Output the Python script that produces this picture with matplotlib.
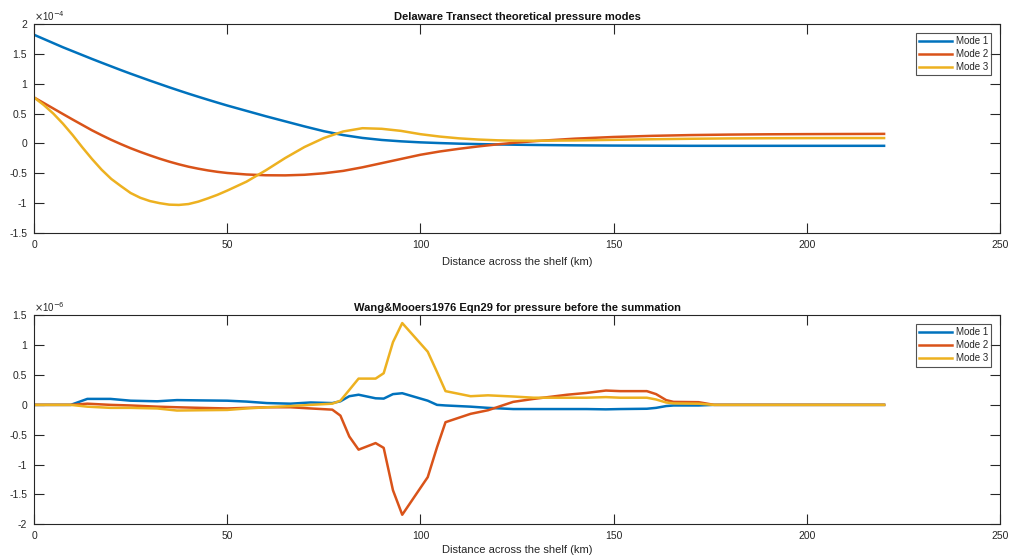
import numpy as np
import matplotlib
matplotlib.use("Agg")
import matplotlib.pyplot as plt
from matplotlib.ticker import FuncFormatter, MultipleLocator

plt.rcParams['font.family'] = ['Liberation Sans', 'DejaVu Sans']
plt.rcParams['axes.unicode_minus'] = False

# ---- Theoretical pressure modes across the shelf (units of 1e-4) ----
x_modes = [0, 2.5, 5, 7.5, 10, 12.5, 15, 17.5, 20, 22.5, 25, 27.5, 30, 32.5,
           35, 37.5, 40, 42.5, 45, 47.5, 50, 55, 60, 65, 70, 75, 80, 85, 90,
           95, 100, 105, 110, 115, 120, 125, 130, 140, 150, 160, 170, 180,
           190, 200, 210, 220]
mode1 = [1.82, 1.75, 1.68, 1.61, 1.545, 1.48, 1.415, 1.352, 1.29, 1.228,
         1.168, 1.11, 1.052, 0.996, 0.94, 0.886, 0.833, 0.782, 0.732, 0.683,
         0.635, 0.545, 0.455, 0.37, 0.285, 0.205, 0.14, 0.092, 0.058, 0.035,
         0.018, 0.006, -0.004, -0.011, -0.017, -0.022, -0.026, -0.032,
         -0.036, -0.038, -0.04, -0.04, -0.04, -0.04, -0.04, -0.04]
mode2 = [0.77, 0.678, 0.585, 0.492, 0.40, 0.31, 0.22, 0.138, 0.06, -0.012,
         -0.08, -0.142, -0.2, -0.255, -0.305, -0.35, -0.39, -0.423, -0.452,
         -0.476, -0.495, -0.52, -0.533, -0.535, -0.525, -0.50, -0.46, -0.40,
         -0.33, -0.26, -0.19, -0.135, -0.09, -0.05, -0.015, 0.015, 0.04,
         0.08, 0.108, 0.127, 0.14, 0.148, 0.153, 0.156, 0.158, 0.16]
mode3 = [0.77, 0.645, 0.50, 0.33, 0.14, -0.065, -0.26, -0.44, -0.595, -0.715,
         -0.83, -0.91, -0.965, -1.0, -1.025, -1.03, -1.015, -0.975, -0.92,
         -0.86, -0.79, -0.64, -0.45, -0.245, -0.06, 0.09, 0.20, 0.255, 0.245,
         0.21, 0.155, 0.115, 0.085, 0.065, 0.052, 0.046, 0.045, 0.05, 0.06,
         0.07, 0.078, 0.084, 0.087, 0.089, 0.09, 0.09]
top_scale = 1e-4

# ---- Wang & Mooers (1976) Eqn 29 terms (units of 1e-6) ----
x_terms = [0, 9.5, 13.8, 19.8, 25, 31.9, 37, 43, 50, 55, 60.3, 66.4, 71.6,
           77.2, 79.3, 81.6, 84, 88.4, 90.5, 92.9, 95.3, 101.9, 104.3, 106.5,
           113, 117.5, 124, 129.3, 138, 143, 148, 151.7, 158.6, 161, 163.6,
           165.5, 172, 176, 220]
term1 = [0, 0, 0.10, 0.10, 0.07, 0.06, 0.08, 0.075, 0.07, 0.055, 0.03, 0.02,
         0.04, 0.03, 0.06, 0.145, 0.17, 0.11, 0.105, 0.18, 0.195, 0.07, 0.0,
         -0.01, -0.03, -0.05, -0.07, -0.07, -0.07, -0.07, -0.075, -0.07,
         -0.065, -0.05, -0.02, -0.01, -0.01, 0, 0]
term2 = [0, 0, 0.02, 0.0, -0.01, -0.03, -0.04, -0.05, -0.06, -0.05, -0.04,
         -0.04, -0.06, -0.08, -0.18, -0.53, -0.75, -0.64, -0.72, -1.43,
         -1.84, -1.21, -0.71, -0.29, -0.15, -0.09, 0.05, 0.1, 0.17, 0.2,
         0.24, 0.23, 0.23, 0.18, 0.08, 0.05, 0.045, 0, 0]
term3 = [0, 0, -0.03, -0.05, -0.05, -0.06, -0.095, -0.09, -0.085, -0.06,
         -0.04, -0.02, 0.0, 0.02, 0.07, 0.25, 0.44, 0.44, 0.53, 1.05, 1.37,
         0.89, 0.55, 0.23, 0.145, 0.16, 0.14, 0.12, 0.12, 0.12, 0.13, 0.12,
         0.12, 0.09, 0.04, 0.025, 0.02, 0, 0]
bottom_scale = 1e-6

labels = ['Mode 1', 'Mode 2', 'Mode 3']
colors = ['#0072BD', '#D95319', '#EDB120']
titles = ['Delaware Transect theoretical pressure modes',
          'Wang&Mooers1976 Eqn29 for pressure before the summation']
xlabel = 'Distance across the shelf (km)'

ink = '#262626'

fig = plt.figure(figsize=(10.09, 5.57), dpi=100)
ax_top = fig.add_axes([34 / 1009, 1 - 233 / 557, 966 / 1009, 209 / 557])
ax_bot = fig.add_axes([34 / 1009, 1 - 524.3 / 557, 966 / 1009, 209 / 557])


def style_axes(ax, scale, exponent, ylim, labelpad):
    ax.set_xlim(0, 250)
    ax.set_ylim(ylim[0] * scale, ylim[1] * scale)
    ax.xaxis.set_major_locator(MultipleLocator(50))
    ax.yaxis.set_major_locator(MultipleLocator(0.5 * scale))
    ax.yaxis.set_major_formatter(
        FuncFormatter(lambda v, p: f"{round(v / scale, 6):g}"))
    ax.tick_params(direction='in', length=7, width=0.8, colors=ink,
                   labelsize=7.5, top=True, right=True, pad=5)
    for sp in ax.spines.values():
        sp.set_color(ink)
        sp.set_linewidth(0.8)
    ax.text(0.0, 1.005, r'$\times$10$^{%d}$' % exponent, transform=ax.transAxes,
            fontsize=7, color=ink, ha='left', va='bottom')
    ax.set_xlabel(xlabel, fontsize=8, color=ink, labelpad=labelpad)
    leg = ax.legend(loc='upper right', fontsize=7, frameon=True, fancybox=False,
                    edgecolor=ink, handlelength=3.4, handletextpad=0.35,
                    labelspacing=0.3, borderpad=0.35, borderaxespad=0.9)
    leg.get_frame().set_linewidth(0.8)
    for t in leg.get_texts():
        t.set_color(ink)


for vals, lab, col in zip([mode1, mode2, mode3], labels, colors):
    ax_top.plot(x_modes, np.array(vals) * top_scale, color=col, lw=1.8, label=lab)
ax_top.set_title(titles[0], fontsize=8, fontweight='bold', color='#111111', pad=3)
style_axes(ax_top, top_scale, -4, (-1.5, 2), 5)

for vals, lab, col in zip([term1, term2, term3], labels, colors):
    ax_bot.plot(x_terms, np.array(vals) * bottom_scale, color=col, lw=1.8, label=lab)
ax_bot.set_title(titles[1], fontsize=8, fontweight='bold', color='#111111', pad=3)
style_axes(ax_bot, bottom_scale, -6, (-2, 1.5), 3)

fig.savefig('out.png', dpi=100, facecolor='white')
